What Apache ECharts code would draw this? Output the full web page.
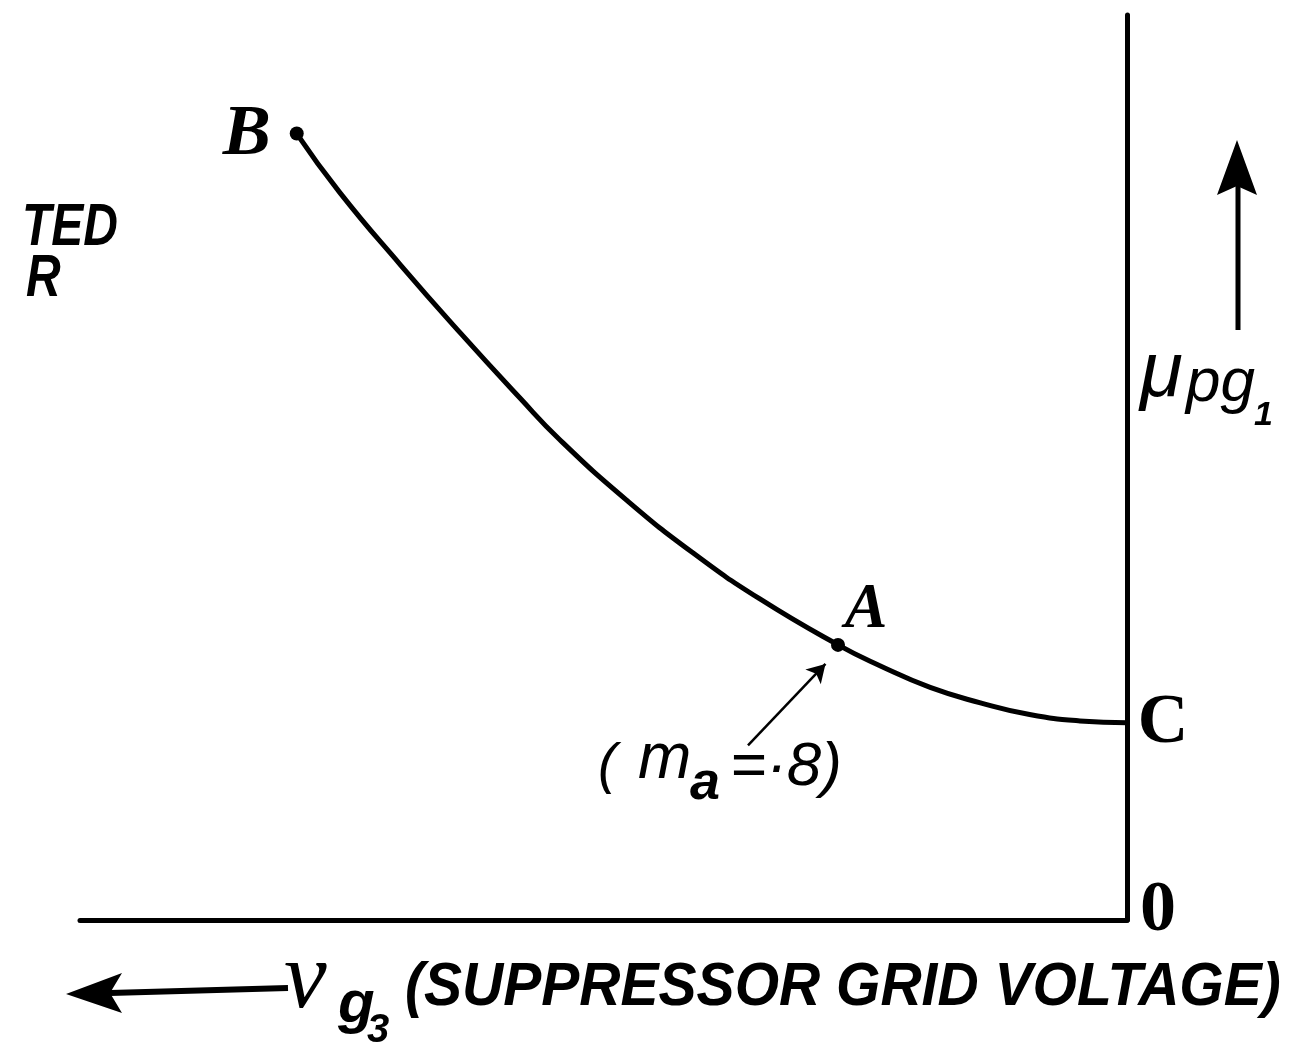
<!DOCTYPE html>
<html>
<head>
<meta charset="utf-8">
<script src="https://cdn.jsdelivr.net/npm/echarts@6/dist/echarts.min.js"></script>
<style>
html,body{margin:0;padding:0;background:#fff;}
#main{width:1294px;height:1051px;}
</style>
</head>
<body>
<div id="main"></div>
<script>
// Curve (arbitrary units: x = suppressor grid voltage, increasing to the left; y = mu_pg1)
const curveX = [79.3, 75.2, 69.4, 63.7, 58.0, 54.2, 47.8, 41.5, 35.1, 27.6, 23.6, 18.8, 14.0, 9.3, 4.5, 0];
const curveY = [86.9, 80.4, 72.4, 64.9, 57.7, 53.1, 46.4, 40.6, 35.5, 30.4, 28.1, 25.7, 24.0, 22.7, 22.0, 21.8];

// Named points
const pointNames = ['B', 'A', 'C', '0'];
const pointX = [79.3, 27.6, 0, 0];
const pointY = [86.9, 30.4, 21.8, 0];
const pointDot = [true, true, false, false];

// Annotation arrow (m_a = ·8) pointing to A
const noteFrom = [36.2, 19.3];
const noteTo = [28.8, 28.3];

const chart = echarts.init(document.getElementById('main'), null, {renderer: 'canvas'});

const labelStyles = {
  'B': {fontFamily: 'Liberation Serif', fontWeight: 'bold', fontStyle: 'italic', fontSize: 72, offset: [-50, 2]},
  'A': {fontFamily: 'Liberation Serif', fontWeight: 'bold', fontStyle: 'italic', fontSize: 64, offset: [28, -34]},
  'C': {fontFamily: 'Liberation Serif', fontWeight: 'bold', fontStyle: 'normal', fontSize: 70, offset: [36, 1]},
  '0': {fontFamily: 'Liberation Serif', fontWeight: 'bold', fontStyle: 'normal', fontSize: 72, offset: [31, -9]}
};

const pointData = pointNames.map((n, i) => {
  const s = labelStyles[n];
  return {
    name: n,
    value: [pointX[i], pointY[i]],
    symbolSize: pointDot[i] ? 14 : 1,
    itemStyle: {color: pointDot[i] ? '#000' : 'rgba(0,0,0,0)', opacity: 1},
    label: {
      show: true,
      formatter: n,
      position: 'inside',
      align: 'center',
      verticalAlign: 'middle',
      offset: s.offset,
      color: '#000',
      opacity: 1,
      textBorderWidth: 0,
      fontFamily: s.fontFamily,
      fontWeight: s.fontWeight,
      fontStyle: s.fontStyle,
      fontSize: s.fontSize
    }
  };
});

const handFont = (size, weight) => (weight || 'normal') + ' ' + 'italic ' + size + 'px "Liberation Sans"';

const option = {
  animation: false,
  backgroundColor: '#fff',
  grid: {left: 80, right: 167, top: 15, bottom: 131, containLabel: false},
  xAxis: {
    type: 'value', min: 0, max: 100, inverse: true,
    axisLine: {show: true, onZero: false, lineStyle: {color: '#000', width: 5}},
    axisTick: {show: false}, axisLabel: {show: false}, splitLine: {show: false}
  },
  yAxis: {
    type: 'value', min: 0, max: 100, position: 'right',
    axisLine: {show: true, onZero: false, lineStyle: {color: '#000', width: 5}},
    axisTick: {show: false}, axisLabel: {show: false}, splitLine: {show: false}
  },
  series: [
    {
      type: 'line',
      data: curveX.map((x, i) => [x, curveY[i]]),
      smooth: 0.5,
      showSymbol: false,
      lineStyle: {color: '#000', width: 5},
      silent: true,
      markLine: {
        silent: true,
        symbol: ['none', 'arrow'],
        symbolSize: [16, 18],
        label: {show: false},
        lineStyle: {color: '#000', width: 2.5, type: 'solid', opacity: 1},
        data: [[{coord: noteFrom}, {coord: noteTo}]]
      }
    },
    {
      type: 'scatter',
      data: pointData,
      silent: true,
      itemStyle: {opacity: 1},
      emphasis: {disabled: true},
      z: 5
    }
  ],
  graphic: [
    // cut-off text at top left
    {type: 'text', x: 22, y: 228, scaleX: 0.8, style: {text: 'TED', font: handFont(60, 'bold'), fill: '#000', verticalAlign: 'middle'}},
    {type: 'text', x: 26, y: 279, scaleX: 0.8, style: {text: 'R', font: handFont(60, 'bold'), fill: '#000', verticalAlign: 'middle'}},
    // y label with arrow
    {type: 'line', shape: {x1: 1238, y1: 330, x2: 1238, y2: 185}, style: {stroke: '#000', lineWidth: 5}},
    {type: 'polygon', shape: {points: [[1237, 140], [1217, 195], [1237, 186], [1257, 195]]}, style: {fill: '#000'}},
    {type: 'text', x: 1140, y: 374, style: {text: 'μ', font: 'italic 78px "Liberation Sans"', fill: '#000', verticalAlign: 'middle'}},
    {type: 'text', x: 1186, y: 384, style: {text: 'pg', font: 'italic 62px "Liberation Sans"', fill: '#000', verticalAlign: 'middle'}},
    {type: 'text', x: 1254, y: 416, style: {text: '1', font: 'bold italic 34px "Liberation Sans"', fill: '#000', verticalAlign: 'middle'}},
    // x label with arrow
    {type: 'line', shape: {x1: 110, y1: 993, x2: 288, y2: 988}, style: {stroke: '#000', lineWidth: 6}},
    {type: 'polygon', shape: {points: [[66, 994], [122, 973], [110, 993], [122, 1013]]}, style: {fill: '#000'}},
    {type: 'text', x: 284, y: 982, style: {text: 'v', font: 'italic 96px "Liberation Serif"', fill: '#000', verticalAlign: 'middle'}},
    {type: 'text', x: 338, y: 1005, style: {text: 'g', font: 'bold italic 60px "Liberation Sans"', fill: '#000', verticalAlign: 'middle'}},
    {type: 'text', x: 367, y: 1031, style: {text: '3', font: 'bold italic 40px "Liberation Sans"', fill: '#000', verticalAlign: 'middle'}},
    {type: 'text', x: 405, y: 988, scaleX: 0.92, style: {text: '(SUPPRESSOR GRID VOLTAGE)', font: handFont(62, 'bold'), fill: '#000', verticalAlign: 'middle'}},
    // (m_a = ·8) annotation
    {type: 'text', x: 598, y: 766, style: {text: '(', font: 'italic 56px "Liberation Sans"', fill: '#000', verticalAlign: 'middle'}},
    {type: 'text', x: 638, y: 760, style: {text: 'm', font: 'italic 64px "Liberation Sans"', fill: '#000', verticalAlign: 'middle'}},
    {type: 'text', x: 690, y: 784, style: {text: 'a', font: 'bold italic 54px "Liberation Sans"', fill: '#000', verticalAlign: 'middle'}},
    {type: 'text', x: 730, y: 768, style: {text: '=·8)', font: 'italic 62px "Liberation Sans"', fill: '#000', verticalAlign: 'middle'}}
  ]
};

chart.setOption(option);
</script>
</body>
</html>
